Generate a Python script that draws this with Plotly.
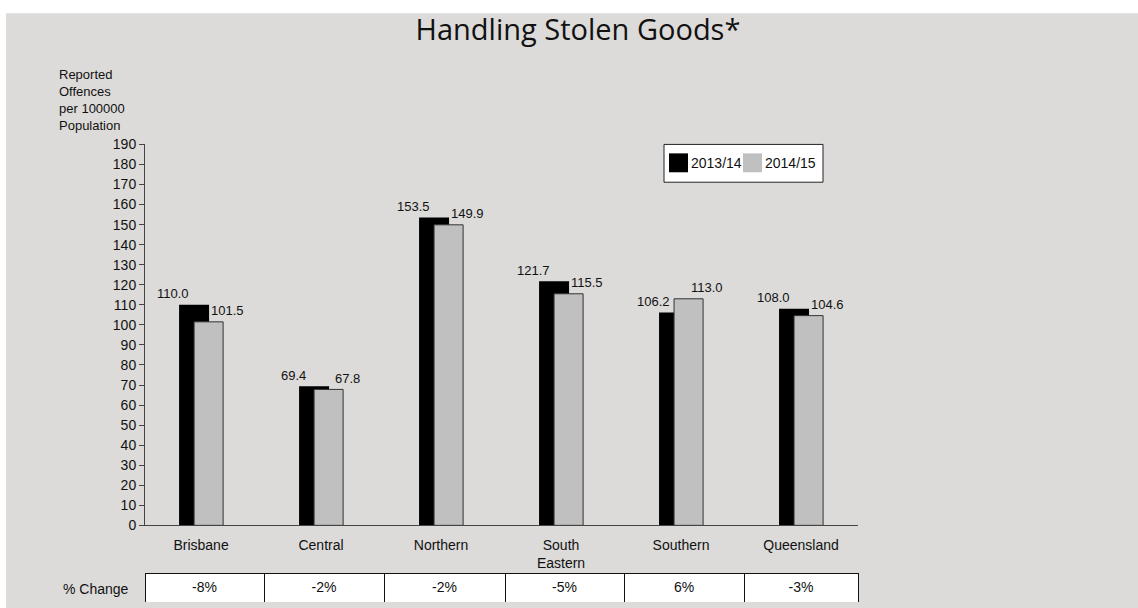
import plotly.graph_objects as go

# ---- data ----
categories = ["Brisbane", "Central", "Northern", "South<br>Eastern", "Southern", "Queensland"]
values_2013_14 = [110.0, 69.4, 153.5, 121.7, 106.2, 108.0]
values_2014_15 = [101.5, 67.8, 149.9, 115.5, 113.0, 104.6]
pct_change = ["-8%", "-2%", "-2%", "-5%", "6%", "-3%"]
series_names = ["2013/14", "2014/15"]
series_colors = ["#000000", "#c0c0c0"]
title_text = "Handling Stolen Goods*"
y_title = "Reported<br>Offences<br>per 100000<br>Population"
table_label = "% Change"

# ---- layout geometry (pixels) ----
REF_H = 608
W, H = 1138, 616
K = H / REF_H            # vertical scale from reference pixels to figure pixels
ML, MR, MT, MB = 145, 280, 10, 5
PW, PH = W - ML - MR, H - MT - MB


def px_x(px):
    return (px - ML) / PW


def px_y(py):
    return (H - MB - py * K) / PH


BG = "#dcdbd9"
FONT = "Liberation Sans, Arial, sans-serif"
TXT = "#111111"

fig = go.Figure()

fig.add_trace(go.Bar(
    x=categories, y=values_2013_14, name=series_names[0],
    width=0.25, offset=-0.183,
    marker=dict(color=series_colors[0], line=dict(width=0)),
))
fig.add_trace(go.Bar(
    x=categories, y=values_2014_15, name=series_names[1],
    width=0.242, offset=-0.058,
    marker=dict(color=series_colors[1], line=dict(color="#333333", width=1)),
))

fig.add_trace(go.Table(
    domain=dict(x=[0, 1], y=[px_y(603), px_y(573)]),
    columnwidth=[119, 120, 121, 119, 120, 114],
    header=dict(values=pct_change, height=30 * K, fill_color="white",
                line=dict(color=TXT, width=1), align="center",
                font=dict(family=FONT, size=14, color=TXT)),
    cells=dict(values=[[] for _ in pct_change]),
))

annotations = []
for i, v in enumerate(values_2013_14):
    annotations.append(dict(x=i - 0.23, y=v, xref="x", yref="y", text=f"{v:.1f}",
                            showarrow=False, yshift=11 * K, yanchor="middle",
                            font=dict(family=FONT, size=13, color=TXT)))
for i, v in enumerate(values_2014_15):
    annotations.append(dict(x=i + 0.217, y=v, xref="x", yref="y", text=f"{v:.1f}",
                            showarrow=False, yshift=11 * K, yanchor="middle",
                            font=dict(family=FONT, size=13, color=TXT)))

annotations.append(dict(x=px_x(57), y=px_y(133), xref="paper", yref="paper",
                        xanchor="left", yanchor="bottom", align="left",
                        text=y_title, showarrow=False,
                        font=dict(family=FONT, size=13, color=TXT)))
annotations.append(dict(x=px_x(131), y=px_y(589), xref="paper", yref="paper",
                        xanchor="right", yanchor="middle", text=table_label,
                        showarrow=False, font=dict(family=FONT, size=14, color=TXT)))

# custom legend (box, swatches, labels)
shapes = [dict(type="rect", xref="paper", yref="paper",
               x0=px_x(6), x1=px_x(W), y0=px_y(REF_H), y1=px_y(10),
               fillcolor=BG, line=dict(width=0), layer="below"),
          dict(type="rect", xref="paper", yref="paper",
               x0=px_x(664), x1=px_x(823), y0=px_y(180), y1=px_y(142),
               fillcolor="white", line=dict(color="#222222", width=1))]
legend_x = [669, 743]
for k, name in enumerate(series_names):
    x0 = legend_x[k]
    shapes.append(dict(type="rect", xref="paper", yref="paper",
                       x0=px_x(x0), x1=px_x(x0 + 19), y0=px_y(170), y1=px_y(151),
                       fillcolor=series_colors[k], line=dict(width=0)))
    annotations.append(dict(x=px_x(x0 + 20), y=px_y(161), xref="paper", yref="paper",
                            xanchor="left", yanchor="middle", text=name,
                            showarrow=False, font=dict(family=FONT, size=14, color=TXT)))

fig.update_layout(
    width=W, height=H,
    margin=dict(l=ML, r=MR, t=MT, b=MB, pad=0),
    paper_bgcolor="white",
    plot_bgcolor="rgba(0,0,0,0)",
    barmode="overlay",
    showlegend=False,
    title=dict(text=title_text, x=578 / W, xref="container", xanchor="center",
               y=1 - 29 * K / H, yref="container", yanchor="middle",
               font=dict(family="Open Sans, sans-serif", size=29, color=TXT)),
    xaxis=dict(type="category", range=[-0.467, 5.475], showline=True,
               linecolor="#444444", linewidth=1, ticks="", showgrid=False,
               zeroline=False, ticklabelstandoff=7,
               tickfont=dict(family=FONT, size=14, color=TXT)),
    yaxis=dict(domain=[px_y(525), px_y(142)], range=[0, 190], dtick=10,
               ticks="outside", ticklen=5, tickcolor="#444444",
               showline=True, linecolor="#444444", linewidth=1,
               showgrid=False, zeroline=False,
               tickfont=dict(family=FONT, size=14, color=TXT)),
    annotations=annotations,
    shapes=shapes,
)

post = (
    "document.documentElement.style.margin='0';"
    "document.body.style.margin='0';"
    "document.documentElement.style.overflow='hidden';"
    "document.body.style.overflow='hidden';"
    "var gd=document.getElementById('{plot_id}');"
    "gd.style.position='fixed';gd.style.top='0';gd.style.left='0';"
)
fig.write_html("out.html", config={"displayModeBar": False}, post_script=post)
